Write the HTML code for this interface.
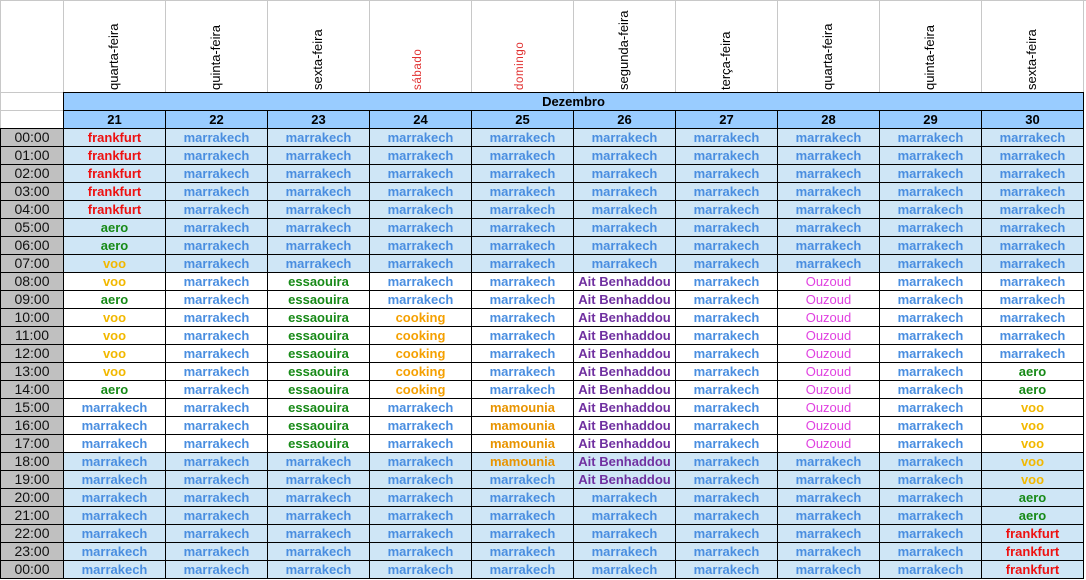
<!DOCTYPE html>
<html><head><meta charset="utf-8">
<style>
body{margin:0;width:1086px;height:580px;background:#fff;position:relative;overflow:hidden;font-family:"Liberation Sans",Arial,sans-serif}
.c{position:absolute;box-sizing:border-box;text-align:center;font-size:13px;line-height:17px;white-space:nowrap;overflow:hidden}
.wd{position:absolute;transform-origin:0 0;transform:rotate(-90deg);font-size:13px;white-space:nowrap}
.gl{position:absolute;background:#c8c8c8}
</style></head><body>
<div id="root"></div>
<script>
const days=[21,22,23,24,25,26,27,28,29,30];
const weekdays=["quarta-feira","quinta-feira","sexta-feira","sábado","domingo","segunda-feira","terça-feira","quarta-feira","quinta-feira","sexta-feira"];
const hours=["00:00","01:00","02:00","03:00","04:00","05:00","06:00","07:00","08:00","09:00","10:00","11:00","12:00","13:00","14:00","15:00","16:00","17:00","18:00","19:00","20:00","21:00","22:00","23:00","00:00"];
function fill(spans){const a=[];spans.forEach(([v,n])=>{for(let i=0;i<n;i++)a.push(v)});return a;}
const M="marrakech";
const cols=[
 fill([["frankfurt",5],["aero",2],["voo",2],["aero",1],["voo",4],["aero",1],[M,10]]),
 fill([[M,25]]),
 fill([[M,8],["essaouira",10],[M,7]]),
 fill([[M,10],["cooking",5],[M,10]]),
 fill([[M,15],["mamounia",4],[M,6]]),
 fill([[M,8],["Ait Benhaddou",12],[M,5]]),
 fill([[M,25]]),
 fill([[M,8],["Ouzoud",10],[M,7]]),
 fill([[M,25]]),
 fill([[M,13],["aero",2],["voo",5],["aero",2],["frankfurt",3]])
];
const colors={frankfurt:"#ee1111",marrakech:"#4a8ee0",aero:"#178a17",voo:"#f2b800",essaouira:"#178a17",cooking:"#f5a000",mamounia:"#e89400","Ait Benhaddou":"#7030a0",Ouzoud:"#e040e0"};
const root=document.getElementById('root');
const X0=63,CW=102,Y0=128,RH=18;
function div(cls,css,txt){const d=document.createElement('div');d.className=cls;d.style.cssText=css;if(txt!==undefined)d.textContent=txt;root.appendChild(d);return d;}
// header gridlines
for(let i=0;i<=10;i++){const g=div('gl',`left:${X0+i*CW}px;top:0;width:1px;height:92px`);}
let g1=div('gl','left:0;top:0;width:1px;height:128px');
let g2=div('gl','left:0;top:0;width:1086px;height:1px');
let g3=div('gl','left:0;top:92px;width:63px;height:1px');
let g4=div('gl','left:0;top:110px;width:63px;height:1px');
weekdays.forEach((w,i)=>{
 const red=(w==="sábado"||w==="domingo");
 const d=div('wd',`left:${X0+i*CW+CW/2-8}px;top:90px;color:${red?'#e03030':'#000'};font-size:${red?'11.5px':'13px'};letter-spacing:${red?'0.6px':'0'}`,w);
 
 
});
const mo=div('c',`left:${X0}px;top:92px;width:${CW*10+1}px;height:19px;background:#99ccff;border:1px solid #000;font-weight:bold;font-size:13px`,"Dezembro");


days.forEach((d,i)=>{
 const e=div('c',`left:${X0+i*CW}px;top:110px;width:${CW+1}px;height:19px;background:#99ccff;border:1px solid #000;font-weight:bold;font-size:13px`,String(d));
 
 
});
hours.forEach((h,r)=>{
 const e=div('c',`left:0;top:${Y0+r*RH}px;width:${X0+1}px;height:${RH+1}px;background:#c0c0c0;border:1px solid #000;font-size:14px;color:#111`,h);
 
 
 cols.forEach((col,i)=>{
  const v=col[r];
  const blue=(r<8||r>=18);
  const bold=v!=="Ouzoud";
  const c=div('c',`left:${X0+i*CW}px;top:${Y0+r*RH}px;width:${CW+1}px;height:${RH+1}px;background:${blue?'#cfe6f6':'#fff'};border:1px solid #000;color:${colors[v]};font-weight:${bold?'bold':'normal'}`,v);
  
  
 });
});
</script>
</body></html>
